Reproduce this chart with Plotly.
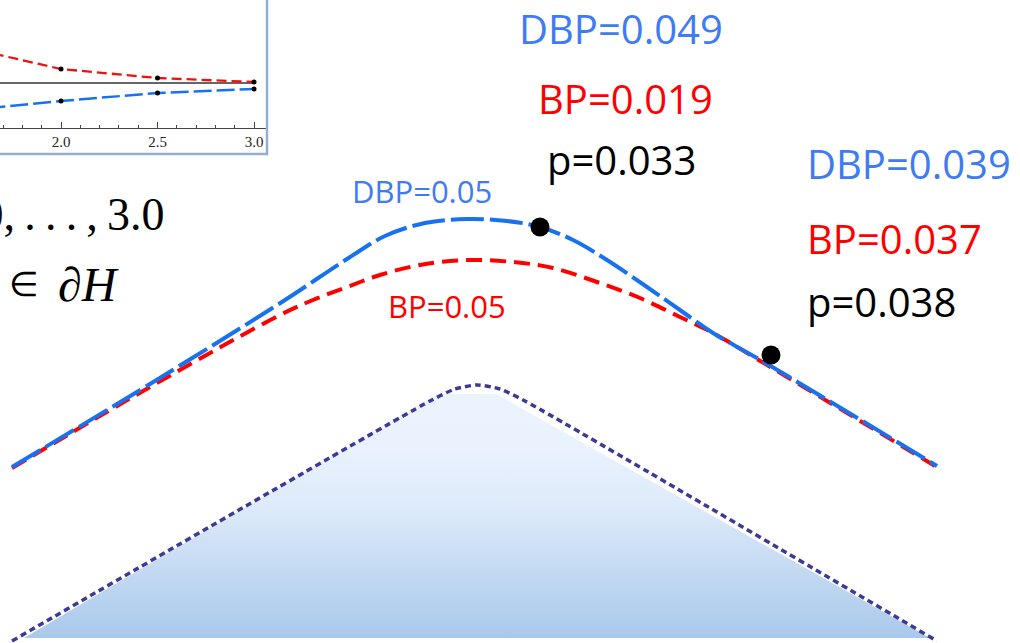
import plotly.graph_objects as go

# ---------------- data ----------------
# main figure, coordinates in canvas units (x right, y down)
dbp_curve_x = [12, 150, 285, 347, 385, 425, 467, 507, 540, 573, 607, 647, 680, 713, 757, 937]
dbp_curve_y = [467, 384, 300, 259, 236, 223, 219, 221, 227, 240, 260, 287, 310, 333, 358, 466]
bp_curve_x = [12, 150, 280, 313, 347, 380, 420, 467, 513, 553, 597, 640, 680, 713, 757, 935]
bp_curve_y = [468, 387, 315, 300, 287, 275, 265, 260, 262, 268, 282, 298, 317, 333, 359, 466]
dot_x = [540, 771]
dot_y = [227, 355]
region_outline_x = [12, 430, 455, 477, 500, 525, 937]
region_outline_y = [641, 401, 389, 385, 389, 401, 641]
region_fill_x = [24, 437, 496, 930, 24]
region_fill_y = [638, 394, 394, 638, 638]

# inset: rejection rate vs parameter
inset_x = [1.5, 2.0, 2.5, 3.0]
inset_bp = [0.0536, 0.0514, 0.0505, 0.0501]
inset_dbp = [0.04725, 0.0482, 0.0490, 0.0494]
inset_level_x = [1.5, 3.0]
inset_level_y = [0.05, 0.05]
inset_tick_vals = [2.0, 2.5, 3.0]
inset_tick_text = ["2.0", "2.5", "3.0"]

# labels
big_labels = [
    ("DBP=0.049", 621, 28, "center"),
    ("BP=0.019", 625, 98, "center"),
    ("p=0.033", 621, 159, "center"),
    ("DBP=0.039", 805, 163, "left"),
    ("BP=0.037", 805, 238, "left"),
    ("p=0.038", 805, 301, "left"),
]
small_labels = [("DBP=0.05", 422, 191), ("BP=0.05", 447, 306)]
math_line1 = "2.0,\u2009.\u2009.\u2009.\u2009,\u20093.0"
math_line2_rel = "∈"
math_line2_set = "∂<i>H</i>"

W, H = 1020, 643
BLUE_LINE = "#1872F0"
BLUE_TEXT = "#3F7BF2"
RED = "#FF0000"

fig = go.Figure()

# shaded region
fig.add_trace(go.Scatter(
    x=region_fill_x, y=region_fill_y, mode="lines", fill="toself",
    line=dict(width=0, color="rgba(0,0,0,0)"),
    fillgradient=dict(type="vertical", start=638, stop=394,
                      colorscale=[[0, "#A9C9EA"], [0.3, "#C6DBF3"], [0.55, "#DFEBFB"],
                                  [0.78, "#E9F2FD"], [1, "#EBF3FE"]]),
    hoverinfo="skip", showlegend=False))
fig.add_trace(go.Scatter(
    x=region_outline_x, y=region_outline_y, mode="lines",
    line=dict(color="#3D3A96", width=3.5, dash="6px,4px", shape="spline", smoothing=0.6),
    hoverinfo="skip", showlegend=False))

# curves
fig.add_trace(go.Scatter(
    x=bp_curve_x, y=bp_curve_y, mode="lines",
    line=dict(color=RED, width=4, dash="16px,8px", shape="spline", smoothing=1),
    showlegend=False))
fig.add_trace(go.Scatter(
    x=dbp_curve_x, y=dbp_curve_y, mode="lines",
    line=dict(color=BLUE_LINE, width=4, dash="33px,6px", shape="spline", smoothing=1),
    showlegend=False))
fig.add_trace(go.Scatter(
    x=dot_x, y=dot_y, mode="markers",
    marker=dict(color="black", size=19), showlegend=False))

# inset traces
fig.add_trace(go.Scatter(
    x=inset_level_x, y=inset_level_y, mode="lines", xaxis="x2", yaxis="y2",
    line=dict(color="#333333", width=1.3), showlegend=False))
fig.add_trace(go.Scatter(
    x=inset_x, y=inset_bp, mode="lines+markers", xaxis="x2", yaxis="y2",
    line=dict(color="#EE1111", width=2.3, dash="10px,5px"),
    marker=dict(color="black", size=5), showlegend=False))
fig.add_trace(go.Scatter(
    x=inset_x, y=inset_dbp, mode="lines+markers", xaxis="x2", yaxis="y2",
    line=dict(color=BLUE_LINE, width=2.5, dash="18px,5px"),
    marker=dict(color="black", size=5), showlegend=False))

annotations = []
for txt, x, y, anchor in big_labels:
    color = BLUE_TEXT if txt.startswith("DBP") else (RED if txt.startswith("BP") else "black")
    annotations.append(dict(text=txt, x=x, y=y, xref="x", yref="y", showarrow=False,
                            xanchor=anchor, yanchor="middle",
                            font=dict(family="Open Sans", size=40, color=color)))
for txt, x, y in small_labels:
    color = BLUE_TEXT if txt.startswith("DBP") else RED
    annotations.append(dict(text=txt, x=x, y=y, xref="x", yref="y", showarrow=False,
                            xanchor="center", yanchor="middle",
                            font=dict(family="Open Sans", size=31, color=color)))
# math text on the left (first line runs off the slide edge, as in the original)
annotations.append(dict(text=math_line1, x=167, y=214, xref="x", yref="y",
                        showarrow=False, xanchor="right", yanchor="middle",
                        font=dict(family="Liberation Serif", size=46, color="black")))
annotations.append(dict(text=math_line2_rel, x=7, y=284, xref="x", yref="y",
                        showarrow=False, xanchor="left", yanchor="middle",
                        font=dict(family="Liberation Serif", size=34, color="black")))
annotations.append(dict(text=math_line2_set, x=121, y=284, xref="x", yref="y",
                        showarrow=False, xanchor="right", yanchor="middle",
                        font=dict(family="Liberation Serif", size=48, color="black")))

fig.update_layout(
    width=W, height=H, margin=dict(l=0, r=0, t=0, b=0),
    paper_bgcolor="white", plot_bgcolor="white",
    xaxis=dict(domain=[0, 1], range=[0, W], visible=False, fixedrange=True),
    yaxis=dict(domain=[0, 1], range=[H, 0], visible=False, fixedrange=True),
    xaxis2=dict(domain=[0, 266 / W], range=[1.684, 3.062], anchor="y2",
                showline=True, linecolor="#444444", linewidth=1,
                ticks="inside", ticklen=6, tickwidth=1, tickcolor="#444444",
                tickmode="array", tickvals=inset_tick_vals, ticktext=inset_tick_text,
                minor=dict(tick0=0, dtick=0.1, ticks="inside", ticklen=3, tickcolor="#444444"),
                showgrid=False, zeroline=False,
                tickfont=dict(family="Liberation Serif", size=15, color="#222222")),
    yaxis2=dict(domain=[1 - 128 / H, 1], range=[0.0455, 0.0583], anchor="x2",
                visible=False, showgrid=False, zeroline=False),
    shapes=[dict(type="rect", xref="x", yref="y", x0=-5, y0=-5, x1=267, y1=154,
                 line=dict(color="#94AED0", width=2.5), layer="above")],
    annotations=annotations,
    showlegend=False,
)

fig.write_html("out.html")
